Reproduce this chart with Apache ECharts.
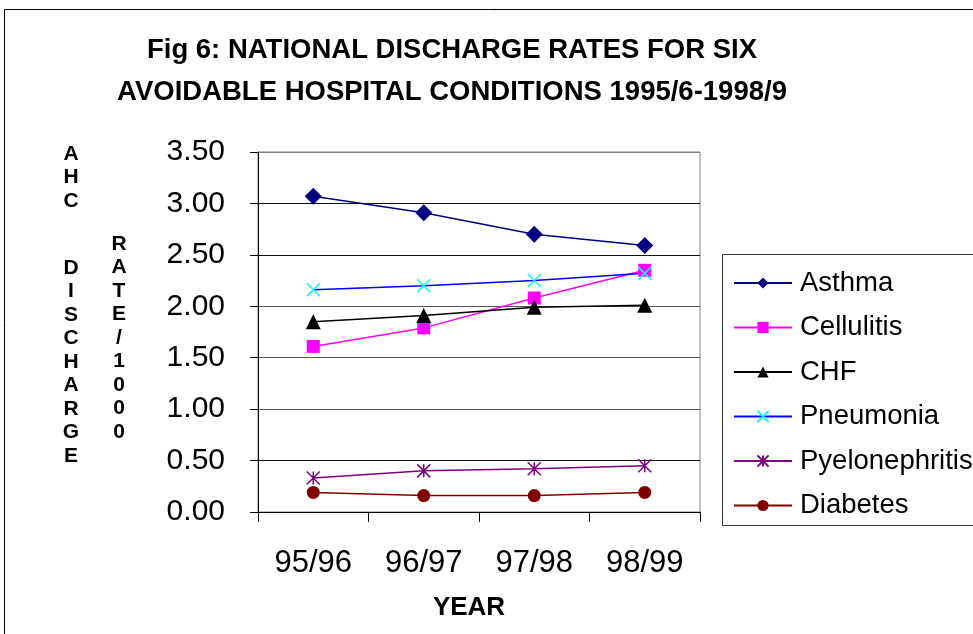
<!DOCTYPE html>
<html>
<head>
<meta charset="utf-8">
<script src="https://cdn.jsdelivr.net/npm/echarts@6/dist/echarts.min.js"></script>
<style>
    html, body { margin: 0; padding: 0; background: #fff; }
    #chart { width: 973px; height: 634px; }
</style>
</head>
<body>
<div id="chart"></div>
<script>
// 数据
const years = ['95/96', '96/97', '97/98', '98/99'];
const asthma = [3.07, 2.91, 2.70, 2.59];
const cellulitis = [1.61, 1.79, 2.08, 2.35];
const chf = [1.85, 1.91, 1.99, 2.01];
const pneumonia = [2.16, 2.20, 2.25, 2.32];
const pyelonephritis = [0.33, 0.40, 0.42, 0.45];
const diabetes = [0.19, 0.16, 0.16, 0.19];

const FONT = 'Liberation Sans, Arial, sans-serif';
const crossPath = 'path://M0,0L10,10M10,0L0,10';
const starPath = 'path://M0,0L10,10M10,0L0,10M5,0L5,10';

function makeSeries(name, data, lineColor, symbol, symbolSize, fill, stroke) {
    return {
        name: name,
        type: 'line',
        data: data,
        symbol: symbol,
        symbolSize: symbolSize,
        showAllSymbol: true,
        lineStyle: { color: lineColor, width: 1.5 },
        itemStyle: stroke
            ? { color: fill, borderColor: stroke, borderWidth: 1.5 }
            : { color: fill, borderWidth: 0 },
        emphasis: { disabled: true },
        animation: false
    };
}

document.addEventListener('DOMContentLoaded', function() {
    const chart = echarts.init(document.getElementById('chart'));
    const option = {
        backgroundColor: '#fff',
        textStyle: { fontFamily: FONT },
        grid: { left: 258, top: 152, right: 273, bottom: 122, show: true, borderColor: '#808080', borderWidth: 1 },
        legend: {
            orient: 'vertical',
            left: 728,
            top: 264,
            itemWidth: 58,
            itemHeight: 14,
            itemGap: 16.5,
            textStyle: { fontFamily: FONT, fontSize: 27.5, lineHeight: 27.5, color: '#000', padding: [0, 0, 0, 3] },
            data: ['Asthma', 'Cellulitis', 'CHF', 'Pneumonia', 'Pyelonephritis', 'Diabetes']
        },
        xAxis: {
            type: 'category',
            data: years,
            boundaryGap: true,
            name: 'YEAR',
            nameLocation: 'middle',
            nameGap: 83,
            nameTextStyle: { fontFamily: FONT, fontSize: 26, fontWeight: 'bold', color: '#000', padding: [0, 20, 0, 0] },
            axisLine: { lineStyle: { color: '#000', width: 1 } },
            axisTick: { show: true, length: 10, lineStyle: { color: '#000' } },
            axisLabel: { margin: 36, fontSize: 31, color: '#000', fontFamily: FONT }
        },
        yAxis: {
            type: 'value',
            min: 0,
            max: 3.5,
            interval: 0.5,
            axisLine: { show: true, lineStyle: { color: '#000', width: 1 } },
            axisTick: { show: true, length: 8, lineStyle: { color: '#000' } },
            axisLabel: {
                margin: 33,
                fontSize: 30,
                color: '#000',
                fontFamily: FONT,
                formatter: function(v) { return v.toFixed(2); }
            },
            splitLine: {
                show: true,
                lineStyle: { color: ['#000', '#111', '#555', '#555', '#555', '#111', '#111', '#808080'], width: 1 }
            }
        },
        graphic: [
            {
                type: 'rect',
                shape: { x: 4.5, y: 9.5, width: 1000, height: 700 },
                style: { fill: 'none', stroke: '#000', lineWidth: 1 },
                z: -1
            },
            {
                type: 'rect',
                shape: { x: 722.5, y: 254.5, width: 300, height: 271 },
                style: { fill: 'none', stroke: '#333', lineWidth: 1 }
            },
            {
                type: 'text',
                style: {
                    x: 452, y: 71,
                    text: 'Fig 6: NATIONAL DISCHARGE RATES FOR SIX\nAVOIDABLE HOSPITAL CONDITIONS 1995/6-1998/9',
                    textAlign: 'center', textVerticalAlign: 'middle',
                    font: 'bold 27.5px ' + FONT, lineHeight: 42, fill: '#000'
                }
            },
            {
                type: 'text',
                style: {
                    x: 71, y: 142,
                    text: 'A\nH\nC',
                    textAlign: 'center', textVerticalAlign: 'top',
                    font: 'bold 21px ' + FONT, lineHeight: 23.5, fill: '#000'
                }
            },
            {
                type: 'text',
                style: {
                    x: 71, y: 256,
                    text: 'D\nI\nS\nC\nH\nA\nR\nG\nE',
                    textAlign: 'center', textVerticalAlign: 'top',
                    font: 'bold 21px ' + FONT, lineHeight: 23.5, fill: '#000'
                }
            },
            {
                type: 'text',
                style: {
                    x: 119, y: 232,
                    text: 'R\nA\nT\nE\n/\n1\n0\n0\n0',
                    textAlign: 'center', textVerticalAlign: 'top',
                    font: 'bold 21px ' + FONT, lineHeight: 23.5, fill: '#000'
                }
            }
        ],
        series: [
            makeSeries('Asthma', asthma, '#000080', 'diamond', 17, '#000080'),
            makeSeries('Cellulitis', cellulitis, '#FF00FF', 'rect', 13, '#FF00FF'),
            makeSeries('CHF', chf, '#000000', 'triangle', 15, '#000000'),
            makeSeries('Pneumonia', pneumonia, '#0000FF', crossPath, 13, 'none', '#00FFFF'),
            makeSeries('Pyelonephritis', pyelonephritis, '#800080', starPath, 13, 'none', '#800080'),
            makeSeries('Diabetes', diabetes, '#800000', 'circle', 13, '#800000')
        ]
    };
    chart.setOption(option);
});
</script>
</body>
</html>
